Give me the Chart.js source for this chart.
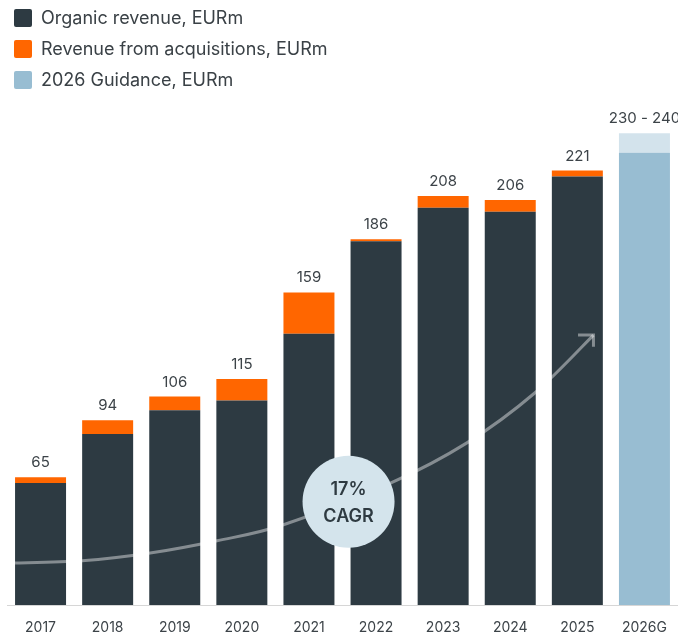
<!DOCTYPE html>
<html>
<head>
<meta charset="utf-8">
<script src="https://cdn.jsdelivr.net/npm/chart.js@4/dist/chart.umd.min.js"></script>
<style>
  html, body { margin: 0; padding: 0; background: #fff; }
  #wrap { position: relative; width: 678px; height: 634px; }
  #revChart { position: absolute; left: 0; top: 0; }
  #legend {
    position: absolute; left: 14px; top: 2px;
    font-family: Inter, 'Open Sans', sans-serif; font-size: 18px; color: #3a4146;
  }
  #legend .item { display: flex; align-items: center; height: 31px; }
  #legend .swatch { width: 18px; height: 18px; border-radius: 2px; margin-right: 9px; }
</style>
</head>
<body>
<div id="wrap">
  <canvas id="revChart" width="678" height="634"></canvas>
  <div id="legend"></div>
</div>
<script>
// ─── Data ────────────────────────────────────────────
const years        = ['2017', '2018', '2019', '2020', '2021', '2022', '2023', '2024', '2025', '2026G'];
const organic      = [62, 87, 99, 104, 138, 185, 202, 200, 218, null];
const acquisitions = [3, 7, 7, 11, 21, 1, 6, 6, 3, null];
const guidanceLow  = [null, null, null, null, null, null, null, null, null, 230];
const guidanceHigh = [null, null, null, null, null, null, null, null, null, 240];

// growth arrow, in (category index, EURm) units
const trendX = [-0.38, 0.62, 1.61, 2.63, 3.62, 5.23, 6.36, 7.36, 8.24];
const trendY = [21.4, 22.5, 26.3, 32.7, 40.8, 62.2, 82.6, 107.7, 137.3];
const headX  = [8.01, 8.24, 8.24];
const headY  = [137.3, 137.3, 131.4];

const cagrLabel = ['17%', 'CAGR'];
const cagrX = 4.59;
const cagrY = 52.5;

// ─── Colours ─────────────────────────────────────────
const C_ORGANIC = '#2d3a42';
const C_ACQ     = '#ff6600';
const C_GUIDE   = '#98bdd2';
const C_RANGE   = '#d3e3ec';
const C_TEXT    = '#3c4348';
const C_TREND   = 'rgba(255,255,255,0.42)';
const FONT      = "Inter, 'Open Sans', sans-serif";

const totals   = years.map((_, i) => (organic[i] || 0) + (acquisitions[i] || 0));
const rangeTop = guidanceHigh.map((h, i) => h == null ? null : h - guidanceLow[i]);

// ─── Legend (HTML) ───────────────────────────────────
const legendItems = [
  ['Organic revenue, EURm', C_ORGANIC],
  ['Revenue from acquisitions, EURm', C_ACQ],
  ['2026 Guidance, EURm', C_GUIDE]
];
document.getElementById('legend').innerHTML = legendItems.map(([t, c]) =>
  `<div class="item"><span class="swatch" style="background:${c}"></span>${t}</div>`
).join('');

// ─── Plugins ─────────────────────────────────────────

// smooth growth arrow + CAGR bubble, positioned with the chart's scales
const cagrArrow = {
  id: 'cagrArrow',
  afterDatasetsDraw(chart) {
    const { ctx, scales: { x, y } } = chart;
    const pts = trendX.map((v, i) => [x.getPixelForValue(v), y.getPixelForValue(trendY[i])]);

    ctx.save();
    ctx.strokeStyle = C_TREND;
    ctx.lineWidth = 3;
    ctx.lineCap = 'butt';

    // Catmull-Rom through the points
    ctx.beginPath();
    ctx.moveTo(pts[0][0], pts[0][1]);
    for (let i = 0; i < pts.length - 1; i++) {
      const p0 = pts[Math.max(i - 1, 0)];
      const p1 = pts[i];
      const p2 = pts[i + 1];
      const p3 = pts[Math.min(i + 2, pts.length - 1)];
      ctx.bezierCurveTo(
        p1[0] + (p2[0] - p0[0]) / 6, p1[1] + (p2[1] - p0[1]) / 6,
        p2[0] - (p3[0] - p1[0]) / 6, p2[1] - (p3[1] - p1[1]) / 6,
        p2[0], p2[1]
      );
    }
    ctx.stroke();

    // arrow head
    ctx.beginPath();
    headX.forEach((v, i) => {
      const px = x.getPixelForValue(v), py = y.getPixelForValue(headY[i]);
      i === 0 ? ctx.moveTo(px, py) : ctx.lineTo(px, py);
    });
    ctx.lineJoin = 'miter';
    ctx.stroke();

    // bubble
    const cx = x.getPixelForValue(cagrX);
    const cy = y.getPixelForValue(cagrY);
    ctx.beginPath();
    ctx.arc(cx, cy, 46, 0, Math.PI * 2);
    ctx.fillStyle = '#d4e4ec';
    ctx.fill();

    ctx.font = `600 18px ${FONT}`;
    ctx.fillStyle = '#2e3a41';
    ctx.textAlign = 'center';
    ctx.textBaseline = 'middle';
    ctx.fillText(cagrLabel[0], cx, cy - 12);
    ctx.fillText(cagrLabel[1], cx, cy + 15);
    ctx.restore();
  }
};

// totals above each stack
const valueLabels = {
  id: 'valueLabels',
  afterDatasetsDraw(chart) {
    const { ctx, scales: { x, y } } = chart;
    ctx.save();
    ctx.font = `15px ${FONT}`;
    ctx.fillStyle = C_TEXT;
    ctx.textAlign = 'center';
    ctx.textBaseline = 'alphabetic';
    years.forEach((_, i) => {
      let txt, top;
      if (guidanceLow[i] != null) {
        txt = guidanceLow[i] + ' - ' + guidanceHigh[i];
        top = guidanceHigh[i];
      } else {
        txt = String(totals[i]);
        top = totals[i];
      }
      ctx.fillText(txt, x.getPixelForValue(i), y.getPixelForValue(top) - 10);
    });
    ctx.restore();
  }
};

// ─── Chart ───────────────────────────────────────────
new Chart(document.getElementById('revChart'), {
  type: 'bar',
  data: {
    labels: years,
    datasets: [
      { label: 'Organic revenue, EURm', data: organic, backgroundColor: C_ORGANIC },
      { label: 'Revenue from acquisitions, EURm', data: acquisitions, backgroundColor: C_ACQ },
      { label: '2026 Guidance, EURm', data: guidanceLow, backgroundColor: C_GUIDE },
      { label: '2026 Guidance range', data: rangeTop, backgroundColor: C_RANGE }
    ]
  },
  options: {
    responsive: false,
    animation: false,
    barPercentage: 0.76,
    categoryPercentage: 1.0,
    layout: { autoPadding: false, padding: { top: 113.5, left: 7, right: 0, bottom: 0 } },
    plugins: { legend: { display: false }, tooltip: { enabled: false } },
    scales: {
      x: {
        stacked: true,
        grid: { display: false },
        border: { display: true, color: '#d6d6d6', width: 1 },
        ticks: { color: C_TEXT, font: { family: FONT, size: 14 }, padding: 6, maxRotation: 0 },
        afterFit: axis => { axis.height = 29; }
      },
      y: { stacked: true, display: false, min: 0, max: 250 }
    }
  },
  plugins: [cagrArrow, valueLabels]
});
</script>
</body>
</html>
